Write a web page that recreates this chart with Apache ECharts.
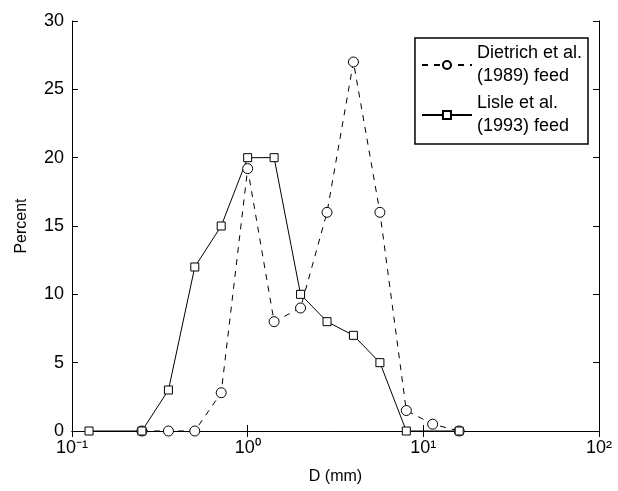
<!DOCTYPE html>
<html><head><meta charset="utf-8">
<script src="https://cdn.jsdelivr.net/npm/echarts@6/dist/echarts.min.js"></script>
<style>html,body{margin:0;background:#fff}#main{width:618px;height:491px}</style>
</head><body><div id="main"></div>
<script>
var dietrichD = [0.25, 0.354, 0.5, 0.707, 1, 1.414, 2, 2.83, 4, 5.66, 8, 11.3, 16];
var dietrichP = [0, 0, 0, 2.8, 19.2, 8, 9, 16, 27, 16, 1.5, 0.5, 0];
var lisleD = [0.125, 0.25, 0.354, 0.5, 0.707, 1, 1.414, 2, 2.83, 4, 5.66, 8, 16];
var lisleP = [0, 0, 3, 12, 15, 20, 20, 10, 8, 7, 5, 0, 0];
var yTicks = [0, 5, 10, 15, 20, 25, 30];
var xTickLabels = { '-1': '10⁻¹', '0': '10⁰', '1': '10¹', '2': '10²' };

function pairs(xs, ys) { return xs.map(function (x, i) { return [x, ys[i]]; }); }
var myChart = echarts.init(document.getElementById('main'));
var font = 'Liberation Sans, Arial, sans-serif';
var tick = { inside: true, length: 6, lineStyle: { color: '#000' } };
var option = {
	animation: false,
	grid: { left: 72, right: 19, top: 21, bottom: 60 },
	legend: {
		right: 30, top: 38, orient: 'vertical',
		backgroundColor: '#fff', borderColor: '#000', borderWidth: 1.5,
		padding: [4, 6, 6, 6], itemGap: 4, itemWidth: 50, itemHeight: 10,
		textStyle: { fontFamily: font, fontSize: 18, color: '#000', lineHeight: 23 },
		data: ['Dietrich et al.\n(1989) feed', 'Lisle et al.\n(1993) feed']
	},
	xAxis: [{
		type: 'log', min: 0.1, max: 100, logBase: 10,
		name: 'D (mm)', nameLocation: 'middle', nameGap: 38,
		nameTextStyle: { fontFamily: font, fontSize: 16, color: '#000' },
		axisLine: { lineStyle: { color: '#000', width: 1 } }, axisTick: tick,
		splitLine: { show: false },
		axisLabel: {
			margin: 8, color: '#000', fontFamily: font, fontSize: 18,
			formatter: function (v) { return xTickLabels[String(Math.round(Math.log10(v)))]; }
		}
	}, {
		type: 'log', min: 0.1, max: 100, position: 'top',
		axisLine: { lineStyle: { color: '#000' } }, axisTick: tick,
		axisLabel: { show: false }, splitLine: { show: false }
	}],
	yAxis: [{
		type: 'value', min: yTicks[0], max: yTicks[yTicks.length - 1], interval: 5,
		name: 'Percent', nameLocation: 'middle', nameGap: 42,
		nameTextStyle: { fontFamily: font, fontSize: 16, color: '#000' },
		axisLine: { show: true, lineStyle: { color: '#000' } }, axisTick: tick,
		splitLine: { show: false },
		axisLabel: { fontFamily: font, fontSize: 18, color: '#000', margin: 8 }
	}, {
		type: 'value', min: 0, max: 30, interval: 5, position: 'right',
		axisLine: { show: true, lineStyle: { color: '#000' } }, axisTick: tick,
		axisLabel: { show: false }, splitLine: { show: false }
	}],
	series: [{
		name: 'Dietrich et al.\n(1989) feed', type: 'line', data: pairs(dietrichD, dietrichP),
		symbol: 'circle', symbolSize: 10,
		lineStyle: { color: '#000', width: 1, type: [6, 6] },
		itemStyle: { color: '#fff', borderColor: '#000', borderWidth: 1 }
	}, {
		name: 'Lisle et al.\n(1993) feed', type: 'line', data: pairs(lisleD, lisleP),
		symbol: 'rect', symbolSize: 8,
		lineStyle: { color: '#000', width: 1 },
		itemStyle: { color: '#fff', borderColor: '#000', borderWidth: 1 }
	}]
};
myChart.setOption(option);
</script></body></html>
